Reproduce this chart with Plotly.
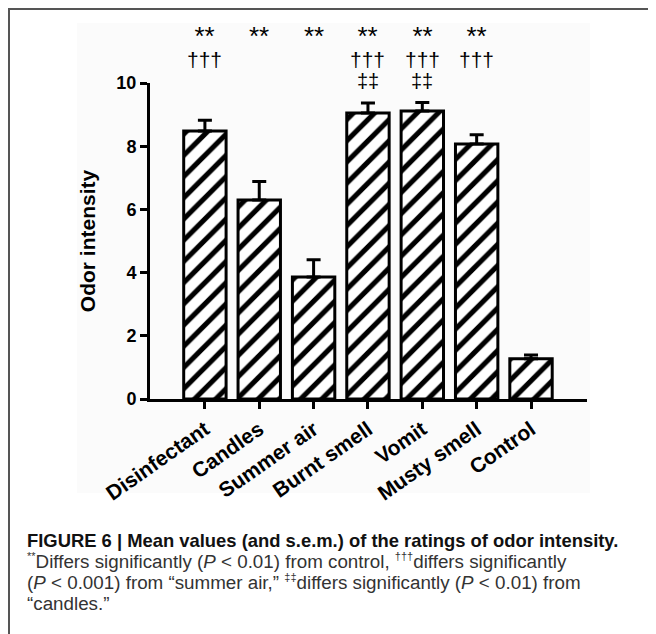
import plotly.graph_objects as go

categories = ["Disinfectant", "Candles", "Summer air", "Burnt smell", "Vomit", "Musty smell", "Control"]
means = [8.48, 6.30, 3.86, 9.05, 9.11, 8.07, 1.27]
sems = [0.34, 0.58, 0.55, 0.32, 0.27, 0.29, 0.12]
stars = ["**", "**", "**", "**", "**", "**", ""]
daggers = ["†††", "", "", "†††", "†††", "†††", ""]
ddaggers = ["", "", "", "‡‡", "‡‡", "", ""]
y_ticks = [0, 2, 4, 6, 8, 10]

W, H = 656, 634
OFF = 8  # default page body margin
ML, MT = 150 - OFF, 83 - OFF
MR, MB = W - (587 - OFF), H - (399 - OFF)
PW, PH = W - ML - MR, H - MT - MB


def px(x):
    return (x - OFF - ML) / PW


def py(y):
    return (H - MB - (y - OFF)) / PH


fig = go.Figure()
fig.add_trace(go.Bar(
    x=categories, y=means, width=0.78,
    marker=dict(color="white",
                line=dict(color="black", width=3),
                pattern=dict(shape="/", fgcolor="black", bgcolor="white",
                             size=15, solidity=0.34, fillmode="replace")),
    error_y=dict(type="data", array=sems, arrayminus=[0] * len(sems),
                 symmetric=False, color="black", thickness=3, width=7),
))

ann = []
for c, s, d, dd in zip(categories, stars, daggers, ddaggers):
    lines = []
    if s:
        lines.append(f"<span style='font-size:26px'>{s}</span>")
    if d:
        lines.append(f"<span style='font-size:21px'>{d}</span>")
    if lines:
        ann.append(dict(x=c, y=10, xref="x", yref="y", text="<br>".join(lines), showarrow=False,
                        yanchor="top", yshift=64,
                        font=dict(family="Liberation Sans", size=17, color="black")))
    if dd:
        ann.append(dict(x=c, y=10, xref="x", yref="y", text=dd, showarrow=False,
                        yshift=2, font=dict(family="Liberation Sans", size=20, color="black")))


def sup(t):
    return f"<sup><span style='font-size:11px'>{t}</span></sup>"


cap_lines = [
    "<span style='font-size:18.4px;color:#111111'><b>FIGURE 6 | Mean values (and s.e.m.) of the ratings of odor intensity.</b></span>",
    f"<span style='font-size:18.8px'>{sup('**')}Differs significantly (<i>P</i> &lt; 0.01) from control, {sup('†††')}differs significantly</span>",
    f"<span style='font-size:18.8px'>(<i>P</i> &lt; 0.001) from \u201csummer air,\u201d {sup('‡‡')}differs significantly (<i>P</i> &lt; 0.01) from</span>",
    "<span style='font-size:18.8px'>\u201ccandles.\u201d</span>",
]
ann.append(dict(x=px(25), y=py(571.5), xref="paper", yref="paper", text="<br>".join(cap_lines),
                showarrow=False, xanchor="left", yanchor="middle", align="left",
                font=dict(family="Liberation Sans", size=16.2, color="#333333")))

shapes = [
    dict(type="rect", xref="paper", yref="paper", x0=px(77), x1=px(590), y0=py(493), y1=py(23),
         fillcolor="#fbfbfb", line=dict(width=0), layer="below"),
    dict(type="line", xref="paper", yref="paper", x0=px(8), x1=px(700), y0=py(9), y1=py(9),
         line=dict(color="#555555", width=2)),
    dict(type="line", xref="paper", yref="paper", x0=px(9), x1=px(9), y0=py(9), y1=py(700),
         line=dict(color="#555555", width=2)),
]

fig.update_layout(
    width=W, height=H,
    margin=dict(l=ML, r=MR, t=MT, b=MB),
    paper_bgcolor="white", plot_bgcolor="rgba(0,0,0,0)",
    showlegend=False,
    annotations=ann, shapes=shapes,
    font=dict(family="Liberation Sans", color="black"),
)
fig.update_xaxes(range=[-1.01, 7.03], showline=True, linewidth=3, linecolor="black",
                 ticks="outside", ticklen=7, tickwidth=3, tickcolor="black",
                 tickangle=-35, tickfont=dict(family="Liberation Sans", size=21, color="black"),
                 tickprefix="<b>", ticksuffix="</b>",
                 showgrid=False, zeroline=False)
fig.update_yaxes(range=[0, 10], tickvals=y_ticks, ticktext=[f"<b>{v}</b>" for v in y_ticks],
                 showline=True, linewidth=3, linecolor="black",
                 ticks="outside", ticklen=7, tickwidth=3, tickcolor="black",
                 tickfont=dict(family="Liberation Sans", size=18, color="black"),
                 showgrid=False, zeroline=False,
                 title=dict(text="<b>Odor intensity</b>", standoff=16,
                            font=dict(family="Liberation Sans", size=21, color="black")))

fig.write_html("out.html")
